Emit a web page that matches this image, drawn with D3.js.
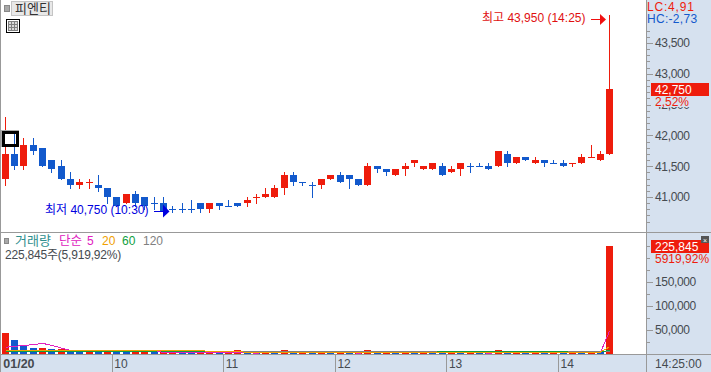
<!DOCTYPE html>
<html lang="ko">
<head>
<meta charset="utf-8">
<title>피엔티</title>
<script src="https://d3js.org/d3.v7.min.js"></script>
<style>
  html, body { margin: 0; padding: 0; background: #fff; overflow: hidden; }
  svg { display: block; font-family: "Liberation Sans", "Noto Sans CJK KR", sans-serif; font-size: 12px; }
  .crisp { shape-rendering: crispEdges; }
</style>
</head>
<body>
<div id="chart"></div>
<script>
// 5 minute candles, 01/20 09:00 - 14:25
var opens = [41300,41700,41500,41850,41800,41600,41500,41300,41200,41250,41200,41150,41000,40900,41050,41000,40900,40900,40800,40800,40800,40900,40800,40900,40850,40900,40900,41000,41000,41000,41150,41350,41250,41200,41200,41300,41350,41350,41300,41200,41500,41450,41350,41450,41550,41450,41450,41500,41400,41450,41500,41500,41500,41500,41700,41550,41650,41550,41600,41550,41550,41550,41550,41650,41600,41700];
var closes = [41700,41500,41850,41750,41500,41450,41300,41200,41250,41250,41150,41000,40850,41050,40900,40850,40900,40750,40800,40800,40800,40800,40900,40850,40850,40850,40950,41000,41050,41150,41350,41250,41250,41200,41300,41350,41250,41300,41200,41500,41450,41400,41450,41500,41600,41500,41550,41350,41450,41550,41500,41500,41450,41750,41550,41650,41600,41600,41550,41550,41500,41550,41650,41650,41700,42750];
var highs = [42300,42050,41950,41950,41800,41600,41600,41400,41300,41300,41350,41150,41000,41050,41100,41000,41000,41000,40850,40900,40950,40900,40900,40900,40950,40900,41000,41050,41150,41200,41400,41400,41250,41250,41300,41350,41400,41350,41300,41550,41500,41450,41450,41550,41600,41500,41550,41550,41500,41550,41550,41550,41550,41750,41750,41650,41650,41650,41600,41600,41600,41550,41700,41850,41750,43950];
var lows = [41200,41450,41450,41700,41500,41400,41300,41150,41150,41150,41100,40900,40850,40900,40850,40800,40800,40750,40750,40750,40750,40750,40750,40800,40850,40850,40850,40900,41000,41000,41050,41200,41200,41000,41150,41300,41250,41150,41200,41200,41400,41350,41350,41350,41500,41450,41450,41350,41400,41350,41400,41500,41450,41500,41500,41550,41600,41550,41500,41550,41500,41500,41550,41650,41600,41700];
var redDoji = [9, 27, 61, 63]; // open == close but drawn red

var volumes = [43000,28000,17000,11500,12000,9000,9500,7000,3500,3500,3500,3500,3500,3000,3500,3500,3000,3500,3000,3000,3000,3500,3500,3000,3500,7000,3000,3000,3500,3000,7000,3000,3500,3000,3500,3000,3500,3000,3500,7000,3000,3500,3000,3500,3000,3500,3000,3000,3500,3000,3500,3000,3000,7000,3500,3500,3000,3500,3000,3500,3000,5500,3000,5500,3000,225845];
var volumeUp = [1,0,0,0,1,0,1,0,0,1,0,1,0,0,1,1,0,1,1,0,0,1,1,0,1,1,0,0,1,0,1,0,1,0,1,0,1,0,1,1,0,1,0,1,0,1,0,0,1,0,1,0,0,1,0,1,0,1,0,1,0,1,0,1,0,1];
var ma5 = [13000,15000,17000,18500,21400,17000,11500,6300,6300,6300,6300,6300,6300,6300,6300,6300,6300,2100,2100,2100,2100,2100,2100,2100,2100,2100,2100,500,2100,2100,2100,2100,2100,2100,2100,2100,2100,2100,500,2100,2100,2100,2100,2100,2100,2100,2100,2100,2100,2100,2100,2100,500,2100,2100,2100,2100,2100,2100,2100,2100,2100,2100,2100,2100,47000];
var ma20 = [6300,6300,6300,6300,6300,6300,6300,6300,6300,6300,6300,6300,6300,6300,6300,6300,6300,6300,6300,6300,6300,6300,4200,4200,4200,4200,2100,2100,2100,2100,2100,2100,2100,2100,2100,2100,2100,2100,2100,2100,2100,2100,2100,2100,2100,2100,2100,2100,2100,2100,2100,2100,2100,2100,2100,2100,2100,2100,2100,2100,2100,2100,2100,2100,3000,14000];
var ma60 = [4200,4200,4200,4200,4200,4200,4200,4200,4200,4200,4200,4200,4200,4200,4200,4200,4200,4200,4200,4200,4200,4200,4200,4200,4200,2100,2100,2100,2100,2100,2100,2100,2100,2100,2100,2100,2100,2100,2100,2100,2100,2100,2100,2100,2100,2100,2100,4200,4200,4200,4200,4200,4200,4200,4200,4200,4200,4200,4200,4200,4200,2100,2100,2100,3000,6800];
var ma120 = [4200,4200,4200,4200,4200,4200,4200,4200,4200,4200,4200,4200,4200,4200,4200,4200,4200,4200,4200,4200,4200,4200,4200,4200,4200,4200,4200,4200,4200,4200,4200,4200,4200,4200,4200,4200,4200,4200,4200,4200,4200,4200,4200,4200,4200,4200,4200,2100,2100,2100,2100,2100,2100,2100,2100,2100,2100,2100,2100,2100,2100,4200,4200,4200,3000,4800];

var priceTicks = [41000,41500,42000,42500,43000,43500];
var priceMinorTicks = [40600,40700,40800,40900,41100,41200,41300,41400,41600,41700,41800,41900,42100,42200,42300,42400,42600,42700,42800,42900,43100,43200,43300,43400,43600,43700];
var volumeTicks = [50000,100000,150000];
var volumeMinorTicks = [25000,75000,125000,175000,200000,225000];
var hourIndex = [0,12,24,36,48,60];
var hourLabels = ["01/20","10","11","12","13","14"];

var RED = "#ee1c0c", BLUE = "#1259cc", PANEL = "#d6e1ef", LINE = "#999999", TEXT = "#454a50";
var width = 711, height = 372, axisX = 646, splitY = 232, baseY = 354;

var svg = d3.select("#chart").append("svg")
  .attr("width", width)
  .attr("height", height);

// scales
var x = d3.scaleBand().domain(d3.range(opens.length)).range([0.75, 614.25]);
var y = d3.scaleLinear().domain([41000, 43500]).range([197, 43]);
var yVol = d3.scaleLinear().domain([0, 150000]).range([353.5, 282]);

function cx(i) { return Math.floor(x(i) + x.bandwidth() / 2); }

// side and bottom panels
svg.append("rect").attr("class", "crisp").attr("x", axisX).attr("y", 0).attr("width", width - axisX).attr("height", height).attr("fill", PANEL);
svg.append("rect").attr("class", "crisp").attr("x", 0).attr("y", baseY).attr("width", width).attr("height", height - baseY).attr("fill", PANEL);

// candles
var candles = svg.append("g").attr("class", "crisp");
var candleColor = function (i) {
  if (closes[i] > opens[i]) return RED;
  if (closes[i] < opens[i]) return BLUE;
  return redDoji.indexOf(i) >= 0 ? RED : BLUE;
};
candles.selectAll("line")
  .data(d3.range(opens.length))
  .enter().append("rect")
  .attr("x", cx)
  .attr("y", function (i) { return Math.round(y(highs[i])); })
  .attr("width", 1)
  .attr("height", function (i) { return Math.round(y(lows[i])) - Math.round(y(highs[i])) + 1; })
  .attr("fill", candleColor);
candles.selectAll("body")
  .data(d3.range(opens.length))
  .enter().append("rect")
  .attr("x", function (i) { return cx(i) - 3; })
  .attr("y", function (i) { return Math.round(y(Math.max(opens[i], closes[i]))); })
  .attr("width", 7)
  .attr("height", function (i) {
    return Math.max(1, Math.round(y(Math.min(opens[i], closes[i]))) - Math.round(y(Math.max(opens[i], closes[i]))));
  })
  .attr("fill", candleColor);

// volume bars
svg.append("g").attr("class", "crisp").selectAll("rect")
  .data(volumes)
  .enter().append("rect")
  .attr("x", function (d, i) { return cx(i) - 3; })
  .attr("y", function (d) { return Math.round(yVol(d)); })
  .attr("width", 7)
  .attr("height", function (d) { return baseY - Math.round(yVol(d)); })
  .attr("fill", function (d, i) { return volumeUp[i] ? RED : BLUE; });

// volume moving averages
var maLine = d3.line()
  .x(function (d, i) { return cx(i) + 0.5; })
  .y(function (d) { return yVol(d); });
[[ma120, "#808080"], [ma60, "#10a040"], [ma5, "#e020c0"], [ma20, "#f0a000"]].forEach(function (s) {
  svg.append("path").datum(s[0])
    .attr("class", "crisp")
    .attr("d", maLine)
    .attr("fill", "none")
    .attr("stroke", s[1])
    .attr("stroke-width", 1);
});

// frame lines
[[0, 0, 1, baseY], [axisX, 0, 1, height], [0, splitY, width, 1], [0, baseY, width, 1]].forEach(function (r) {
  svg.append("rect").attr("class", "crisp")
    .attr("x", r[0]).attr("y", r[1]).attr("width", r[2]).attr("height", r[3])
    .attr("fill", LINE);
});

// right axes
function rightAxis(scale, values, size, labels) {
  var g = svg.append("g")
    .attr("transform", "translate(" + (axisX + 1) + ",0)")
    .call(d3.axisRight(scale).tickValues(values).tickSize(size).tickPadding(2)
      .tickFormat(labels ? d3.format(",") : ""));
  g.select(".domain").remove();
  g.selectAll("line").attr("stroke", LINE).attr("class", "crisp");
  g.selectAll("text")
    .attr("fill", TEXT)
    .style("font-size", "12px")
    .attr("letter-spacing", "-0.35");
}
rightAxis(y, priceMinorTicks, 3, false);
rightAxis(y, priceTicks, 6, true);
rightAxis(yVol, volumeMinorTicks, 3, false);
rightAxis(yVol, volumeTicks, 6, true);

// bottom axis, ticks sit on the left edge of the hour's first candle
var xAxis = svg.append("g")
  .attr("transform", "translate(" + (-x.bandwidth() / 2) + "," + baseY + ")")
  .call(d3.axisBottom(x).tickValues(hourIndex).tickSize(18).tickFormat(function (d, i) { return hourLabels[i]; }));
xAxis.select(".domain").remove();
xAxis.selectAll("line").attr("stroke", LINE).attr("class", "crisp");
xAxis.selectAll("text")
  .attr("text-anchor", "start")
  .attr("x", 2)
  .attr("y", 5)
  .attr("dy", "0.71em")
  .attr("fill", TEXT)
  .style("font-size", "12px");
xAxis.select("text").attr("font-weight", "bold").attr("x", 2.5).style("font-size", "12.5px");

function label(tx, ty, str, color, size, spacing) {
  var t = svg.append("text").attr("x", tx).attr("y", ty).attr("fill", color).text(str);
  if (size) t.style("font-size", size + "px");
  if (spacing) t.attr("letter-spacing", spacing);
  return t;
}

label(655, 368, "14:25:00", TEXT);

// name button
svg.append("rect").attr("class", "crisp").attr("x", 4).attr("y", 5).attr("width", 5).attr("height", 6).attr("fill", "#a8a8a8").attr("stroke", "#888");
svg.append("rect").attr("class", "crisp").attr("x", 11.5).attr("y", 1.5).attr("width", 41).attr("height", 14).attr("fill", "#e8e8e8").attr("stroke", "#c4c4c4");
label(15, 13, "피엔티", "#333", 13);

// table icon
svg.append("rect").attr("class", "crisp").attr("x", 6.5).attr("y", 19.5).attr("width", 13).attr("height", 13).attr("fill", "#fff").attr("stroke", "#000");
svg.append("rect").attr("class", "crisp").attr("x", 8.5).attr("y", 21.5).attr("width", 9).attr("height", 9).attr("fill", "#d8d8d8").attr("stroke", "#808080");
[11.5, 14.5].forEach(function (v) {
  svg.append("line").attr("class", "crisp").attr("x1", v).attr("x2", v).attr("y1", 22).attr("y2", 30).attr("stroke", "#808080");
});
[24.5, 27.5].forEach(function (v) {
  svg.append("line").attr("class", "crisp").attr("x1", 9).attr("x2", 17).attr("y1", v).attr("y2", v).attr("stroke", "#808080");
});

// black selection box at the left edge
svg.append("rect").attr("class", "crisp").attr("x", 4).attr("y", 133).attr("width", 10).attr("height", 11).attr("fill", "#fff");
svg.append("rect").attr("class", "crisp").attr("x", 1.5).attr("y", 130.5).attr("width", 17).attr("height", 16).attr("fill", "none").attr("stroke", "#aaa");
svg.append("rect").attr("class", "crisp").attr("x", 3).attr("y", 132).attr("width", 14).attr("height", 13).attr("fill", "none").attr("stroke", "#000").attr("stroke-width", 3);

// high / low notes
label(482, 22, "최고 43,950 (14:25)", "#e01010");
svg.append("line").attr("class", "crisp").attr("x1", 591).attr("x2", 602).attr("y1", 19.5).attr("y2", 19.5).attr("stroke", "#f01010");
svg.append("path").attr("d", "M600,14L606,19.5L600,25Z").attr("fill", "#f01010");
label(45, 214, "최저 40,750 (10:30)", "#0000e0");
svg.append("line").attr("class", "crisp").attr("x1", 154).attr("x2", 165).attr("y1", 211.5).attr("y2", 211.5).attr("stroke", "#0000e0");
svg.append("path").attr("d", "M163,204.5L169.5,211.5L163,217.5Z").attr("fill", "#0000e0");

// side panel labels
label(647, 11, "LC:4,91", RED, 12, "0.8");
label(647, 23, "HC:-2,73", BLUE, 12, "0.3");
svg.append("rect").attr("class", "crisp").attr("x", 651).attr("y", 96).attr("width", 60).attr("height", 11).attr("fill", PANEL);
svg.append("rect").attr("class", "crisp").attr("x", 651).attr("y", 83).attr("width", 58).attr("height", 13).attr("fill", RED);
label(655, 94, "42,750", "#fff");
label(655, 106, "2,52%", RED);
svg.append("rect").attr("class", "crisp").attr("x", 651).attr("y", 240).attr("width", 58).attr("height", 13).attr("fill", RED);
label(655, 251, "225,845", "#fff");
label(655, 263, "5919,92%", RED);
svg.append("rect").attr("class", "crisp").attr("x", 701).attr("y", 236).attr("width", 8).attr("height", 7).attr("fill", "#555");
svg.append("text").attr("x", 705).attr("y", 242.5).attr("text-anchor", "middle").attr("fill", "#fff").style("font-size", "7px").text("×");

// volume legend
svg.append("rect").attr("class", "crisp").attr("x", 4).attr("y", 238).attr("width", 4).attr("height", 5).attr("fill", "#a8a8a8").attr("stroke", "#888");
label(15, 245, "거래량", "#2f8f8f", 13);
label(59, 245, "단순", "#e020c0", 12.5);
label(87, 245, "5", "#e020c0");
label(102, 245, "20", "#f0a000");
label(122, 245, "60", "#10a040");
label(143, 245, "120", "#808080");
label(5, 259, "225,845주(5,919,92%)", TEXT, 12, "-0.2");
</script>
</body>
</html>
